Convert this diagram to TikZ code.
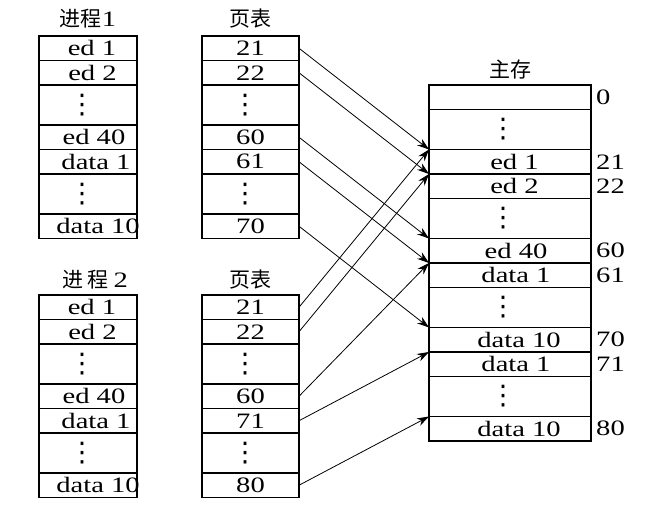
\documentclass[tikz,border=0pt]{standalone}
\usepackage{fontspec}
\setmainfont{Liberation Serif}[FakeStretch=1.3]
\newfontfamily\cjk{Noto Sans CJK SC}
\newfontfamily\dvfont{DejaVu Sans}
\usetikzlibrary{arrows.meta}
\newcommand\rt[2][10pt]{\makebox[0pt]{\hspace{#1}#2}}
\newcommand\vd[1][-12pt]{\makebox[0pt]{\hspace{#1}\raisebox{-3pt}{\dvfont\fontsize{27}{30}\selectfont ⋮}}}
\begin{document}
\begin{tikzpicture}[x=1pt,y=-1pt,
  font=\fontsize{22}{26}\selectfont,
  cell/.style={draw, line width=1.5pt, inner sep=0pt, outer sep=0pt, minimum height=#1},
  pw/.style={minimum width=98},
  tw/.style={minimum width=97},
  mw/.style={minimum width=162},
  ttl/.style={inner sep=0pt, font=\fontsize{21}{24}\selectfont\cjk},
  num/.style={anchor=west, inner sep=0pt},
  arr/.style={-{Stealth[length=12pt,width=8pt]}, line width=0.8pt}]
\useasboundingbox (0,0) rectangle (654,518);

% titles
\node[ttl] (ttlp1) at (88,19) {进程{\rmfamily\fontsize{22}{26}\selectfont 1}};
\node[ttl] (ttlt1) at (250.5,19) {页表};
\node[ttl] (ttlp2) at (95,280) {进 程 {\rmfamily\fontsize{22}{26}\selectfont 2}};
\node[ttl] (ttlt2) at (250.5,280) {页表};
\node[ttl] (ttlm) at (510,70) {主存};

% process 1
\node[cell=24.5,pw] (p1a) at (88,48.25) {\rt[8pt]{ed 1}};
\node[cell=24.5,pw] (p1b) at (88,72.75) {\rt[9pt]{ed 2}};
\node[cell=40,pw] (p1c) at (88,105) {\vd};
\node[cell=24.5,pw] (p1d) at (88,137.25) {\rt[12pt]{ed 40}};
\node[cell=24.5,pw] (p1e) at (88,161.75) {\rt[16pt]{data 1}};
\node[cell=40,pw] (p1f) at (88,194) {\vd};
\node[cell=24.5,pw] (p1g) at (88,226.25) {\rt[20pt]{data 10}};

% page table 1
\node[cell=24.5,tw] (t1a) at (250.5,48.25) {21};
\node[cell=24.5,tw] (t1b) at (250.5,72.75) {22};
\node[cell=40,tw] (t1c) at (250.5,105) {\vd[-11pt]};
\node[cell=24.5,tw] (t1d) at (250.5,137.25) {60};
\node[cell=24.5,tw] (t1e) at (250.5,161.75) {61};
\node[cell=40,tw] (t1f) at (250.5,194) {\vd[-11pt]};
\node[cell=24.5,tw] (t1g) at (250.5,226.25) {70};

% process 2
\node[cell=24.5,pw] (p2a) at (88,307.25) {\rt[8pt]{ed 1}};
\node[cell=24.5,pw] (p2b) at (88,331.75) {\rt[9pt]{ed 2}};
\node[cell=40,pw] (p2c) at (88,364) {\vd};
\node[cell=24.5,pw] (p2d) at (88,396.25) {\rt[12pt]{ed 40}};
\node[cell=24.5,pw] (p2e) at (88,420.75) {\rt[16pt]{data 1}};
\node[cell=40,pw] (p2f) at (88,453) {\vd};
\node[cell=24.5,pw] (p2g) at (88,485.25) {\rt[20pt]{data 10}};

% page table 2
\node[cell=24.5,tw] (t2a) at (250.5,307.25) {21};
\node[cell=24.5,tw] (t2b) at (250.5,331.75) {22};
\node[cell=40,tw] (t2c) at (250.5,364) {\vd[-11pt]};
\node[cell=24.5,tw] (t2d) at (250.5,396.25) {60};
\node[cell=24.5,tw] (t2e) at (250.5,420.75) {71};
\node[cell=40,tw] (t2f) at (250.5,453) {\vd[-11pt]};
\node[cell=24.5,tw] (t2g) at (250.5,485.25) {80};

% main memory
\node[cell=24.5,mw] (m0) at (510,97.25) {};
\node[cell=40,mw] (m1) at (510,129.5) {\vd[-14pt]};
\node[cell=24.5,mw] (m2) at (510,161.75) {\rt[9pt]{ed 1}};
\node[cell=24.5,mw] (m3) at (510,186.25) {\rt[9pt]{ed 2}};
\node[cell=40,mw] (m4) at (510,218.5) {\vd[-14pt]};
\node[cell=24.5,mw] (m5) at (510,250.75) {\rt[12pt]{ed 40}};
\node[cell=24.5,mw] (m6) at (510,275.25) {\rt[12pt]{data 1}};
\node[cell=40,mw] (m7) at (510,307.5) {\vd[-14pt]};
\node[cell=24.5,mw] (m8) at (510,339.75) {\rt[18pt]{data 10}};
\node[cell=24.5,mw] (m9) at (510,364.25) {\rt[12pt]{data 1}};
\node[cell=40,mw] (m10) at (510,396.5) {\vd[-14pt]};
\node[cell=24.5,mw] (m11) at (510,428.75) {\rt[18pt]{data 10}};

% addresses
\node[num] (a0) at ([xshift=5]m0.east) {0};
\node[num] (a21) at ([xshift=5]m2.east) {21};
\node[num] (a22) at ([xshift=5]m3.east) {22};
\node[num] (a60) at ([xshift=5]m5.east) {60};
\node[num] (a61) at ([xshift=5]m6.east) {61};
\node[num] (a70) at ([xshift=5]m8.east) {70};
\node[num] (a71) at ([xshift=5]m9.east) {71};
\node[num] (a80) at ([xshift=5]m11.east) {80};

% arrows from page table 1
\draw[arr] (t1a.east) -- (m2.north west);
\draw[arr] (t1b.east) -- (m3.north west);
\draw[arr] (t1d.east) -- (m5.north west);
\draw[arr] (t1e.east) -- (m6.north west);
\draw[arr] (t1g.east) -- (m8.north west);
% arrows from page table 2
\draw[arr] (t2a.east) -- (m2.north west);
\draw[arr] (t2b.east) -- (m3.north west);
\draw[arr] (t2d.east) -- (m6.north west);
\draw[arr] (t2e.east) -- (m9.north west);
\draw[arr] (t2g.east) -- (m11.north west);
\end{tikzpicture}
\end{document}
